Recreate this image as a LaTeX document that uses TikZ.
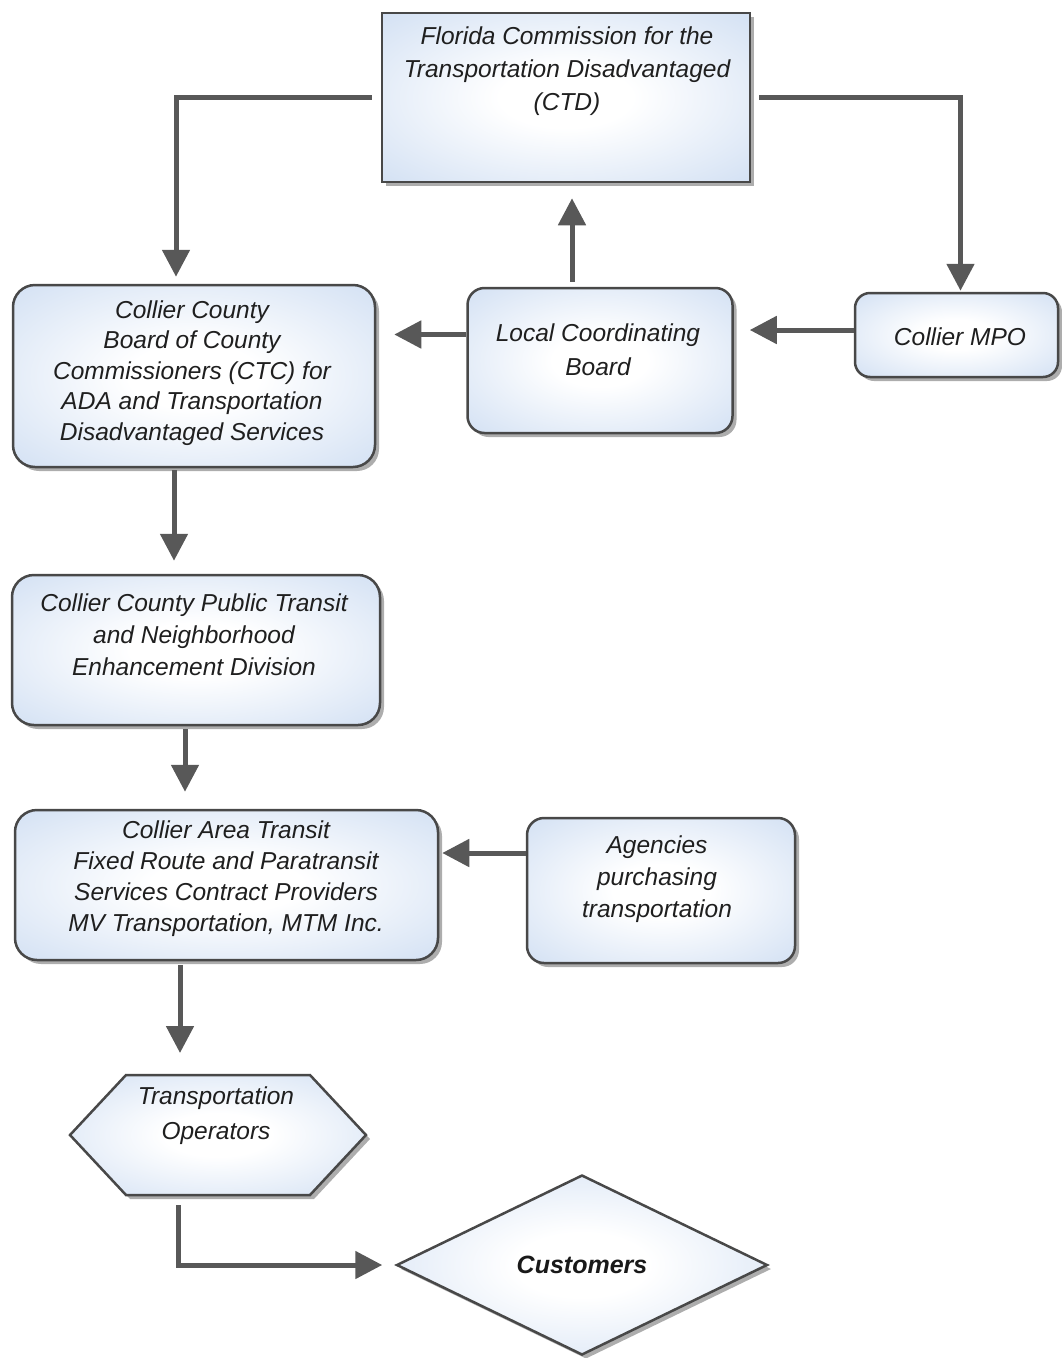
\documentclass[tikz,border=0pt]{standalone}
\usepackage{fontspec}
\setmainfont{Liberation Sans}
\usetikzlibrary{arrows.meta,shadows,shapes.geometric,calc}
\definecolor{boxblue}{RGB}{194,213,239}
\definecolor{edgegray}{RGB}{72,72,72}
\definecolor{arrgray}{RGB}{88,88,88}
\pgfdeclareradialshading{boxshade}{\pgfpoint{0bp}{0bp}}{color(0bp)=(white); color(9bp)=(white); color(46bp)=(boxblue); color(100bp)=(boxblue)}
\tikzset{
  box/.style={draw=edgegray, line width=2.5pt, shade, shading=boxshade,
    drop shadow={shadow xshift=4pt, shadow yshift=-4pt, fill=black!40, opacity=0.8},
    inner sep=0pt},
  rbox/.style={box, rounded corners=22pt},
  sbox/.style={box, rounded corners=17pt},
  txt/.style={font=\fontsize{24.5}{31}\selectfont\itshape, align=center, text=black!88, inner sep=0pt},
  arr/.style={draw=arrgray, line width=5pt, -{Triangle[length=27pt,width=27pt]}}
}
\begin{document}
\begin{tikzpicture}[x=1pt,y=-1pt]
\useasboundingbox (0,0) rectangle (1061,1358);

% boxes
\node[box, minimum width=368pt, minimum height=169pt] (ctd) at (566,97.5) {};
\node[txt, font=\fontsize{24.5}{33}\selectfont\itshape] (ctdt) at (567,71) {Florida Commission for the\\Transportation Disadvantaged\\(CTD)};

\node[rbox, minimum width=362pt, minimum height=182pt] (ccb) at (194,376) {};
\node[txt, font=\fontsize{24.5}{30.5}\selectfont\itshape] (ccbt) at (192,373) {Collier County\\Board of County\\Commissioners (CTC) for\\ADA and Transportation\\Disadvantaged Services};

\node[sbox, minimum width=265pt, minimum height=145pt] (lcb) at (600,360.5) {};
\node[txt, font=\fontsize{24.5}{34}\selectfont\itshape] (lcbt) at (598,350) {Local Coordinating\\Board};

\node[sbox, rounded corners=15pt, minimum width=203pt, minimum height=84pt] (mpo) at (956.5,335) {};
\node[txt] (mpot) at (960,337) {Collier MPO};

\node[rbox, minimum width=368pt, minimum height=150pt] (pt) at (196,650) {};
\node[txt, font=\fontsize{24.5}{32}\selectfont\itshape] (ptt) at (194,635) {Collier County Public Transit\\and Neighborhood\\Enhancement Division};

\node[rbox, minimum width=423pt, minimum height=150pt] (cat) at (226.5,885) {};
\node[txt] (catt) at (226,879) {Collier Area Transit\\Fixed Route and Paratransit\\Services Contract Providers\\MV Transportation, MTM Inc.};

\node[sbox, minimum width=268pt, minimum height=145pt] (ag) at (661,890.5) {};
\node[txt, font=\fontsize{24.5}{32}\selectfont\itshape] (agt) at (657,879) {Agencies\\purchasing\\transportation};

% hexagon
\path[box] (70,1135) -- (126,1075) -- (310,1075) -- (366,1135) -- (310,1195) -- (126,1195) -- cycle;
\coordinate (hexn) at (218,1075);
\coordinate (hexs) at (218,1195);
\node[txt, font=\fontsize{24.5}{35}\selectfont\itshape] (hext) at (216,1116) {Transportation\\Operators};

% diamond
\node[box, diamond, minimum width=371pt, minimum height=180pt, aspect=2.06,
      font=\fontsize{25}{30}\selectfont\bfseries\itshape, text=black!90] (cust) at (582,1265) {Customers};

% connectors
\draw[arr] ($(ctd.west)+(-9,0)$) -| ($(ccb.north)+(-18,-7)$);
\draw[arr] ($(ctd.east)+(8,0)$) -| ($(mpo.north)+(4,-1)$);
\draw[arr] ($(lcb.north)+(-28,-5)$) -- ($(ctd.south)+(6,15)$);
\draw[arr] ($(lcb.west)+(0,-26)$) -- ($(ccb.east)+(18,-41.5)$);
\draw[arr] ($(mpo.west)+(0,-5)$) -- ($(lcb.east)+(16,-30.5)$);
\draw[arr] ($(ccb.south)+(-20,2)$) -- ($(pt.north)+(-22,-13)$);
\draw[arr] ($(pt.south)+(-11,3)$) -- ($(cat.north)+(-41.5,-17)$);
\draw[arr] ($(ag.west)+(0,-37.5)$) -- ($(cat.east)+(3,-32)$);
\draw[arr] ($(cat.south)+(-46.5,4)$) -- ($(hexn)+(-38,-22)$);
\draw[arr] ($(hexs)+(-40,10)$) |- ($(cust.west)+(-13,0)$);
\end{tikzpicture}
\end{document}
